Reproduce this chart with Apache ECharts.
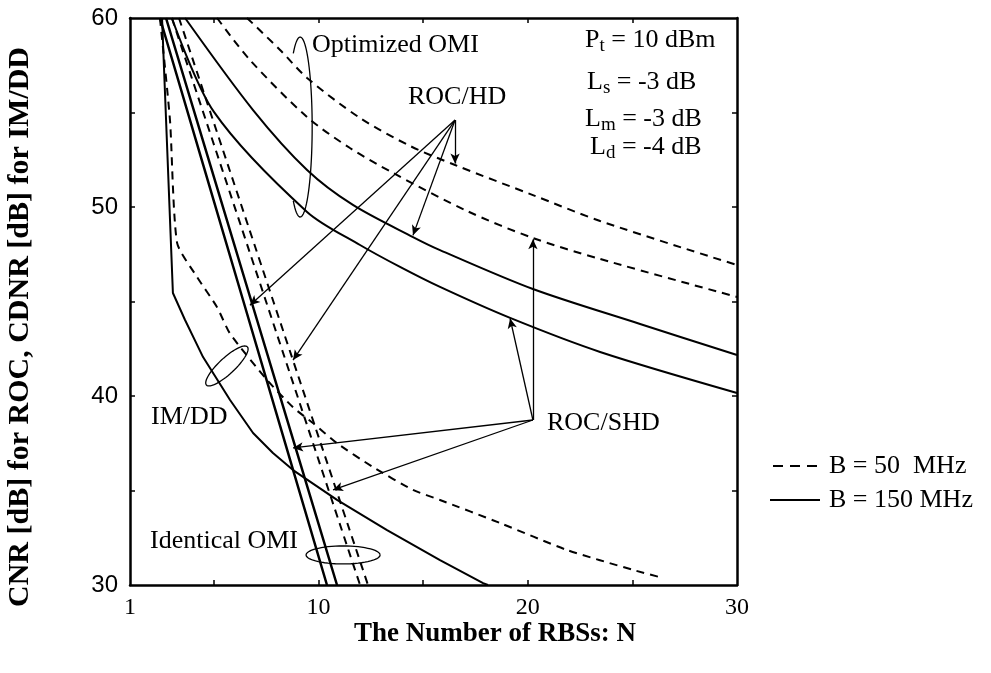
<!DOCTYPE html>
<html><head><meta charset="utf-8">
<script src="https://cdn.jsdelivr.net/npm/echarts@6/dist/echarts.min.js"></script>
<style>html,body{margin:0;padding:0;background:#fff}#c{width:991px;height:673px}</style>
</head><body><div id="c"></div>
<script>
// ---- axis ticks / labels ----
const xTickValues = [5, 10, 15, 20, 25];
const xLabelValues = [1, 10, 20, 30];
const yTickValues = [35, 40, 45, 50, 55];

// ---- series (N, dB) ----
// Optimized OMI, dashed (B = 50 MHz)
const optA50N = [6.59, 8.17, 9.46, 11.99, 14.38, 16.53, 20.25, 23.46, 30];
const optA50V = [60, 58.31, 56.83, 54.71, 53.23, 52.22, 50.63, 49.26, 46.93];
const optB50N = [5.16, 6.73, 9.46, 11.51, 13.57, 17.1, 20.25, 23.46, 30];
const optB50V = [60, 57.78, 54.76, 53.12, 51.8, 49.79, 48.36, 47.25, 45.24];
// Optimized OMI, solid (B = 150 MHz)
const optA150N = [3.63, 6.88, 9.46, 11.65, 14.52, 15.81, 20.25, 25.37, 30];
const optA150V = [60, 55.13, 51.96, 50.11, 48.41, 47.72, 45.66, 43.81, 42.17];
const optB150N = [3.0, 5.01, 9.46, 11.99, 13.9, 15.81, 19.16, 23.46, 30];
const optB150V = [60, 55.03, 49.74, 47.99, 46.83, 45.77, 44.13, 42.33, 40.16];
// Identical OMI, solid
const idA150N = [2.43, 6.4, 10.41];
const idA150V = [60, 45.08, 30];
const idB150N = [2.72, 6.78, 10.89];
const idB150V = [60, 45.08, 30];
// Identical OMI, dashed
const idA50N = [3.0, 7.5, 11.99];
const idA50V = [60, 45.0, 30];
const idB50N = [3.34, 7.85, 12.37];
const idB50V = [60, 45.0, 30];
// IM/DD
const imdd150N = [2.53, 3.05, 3.63, 4.49, 5.78, 6.88, 7.83, 8.79, 10.89, 13.28, 15.81, 17.87, 18.1];
const imdd150V = [60, 45.45, 44.02, 42.06, 39.79, 38.04, 36.98, 36.08, 34.5, 32.9, 31.32, 30.1, 30];
const imdd50N = [2.43, 2.91, 3.25, 4.2, 5.16, 5.78, 7.55, 8.79, 9.74, 10.89, 12.61, 14.52, 15.81, 18.68, 21.88, 25.03, 26.47];
const imdd50V = [60, 54.6, 48.1, 46.3, 44.7, 43.3, 40.85, 39.4, 38.57, 37.5, 36.24, 35.03, 34.5, 33.28, 31.85, 30.8, 30.37];

// ---- annotation arrows: [fromN, fromV, toN, toV] ----
const hdArrows = [
  [16.53, 54.6, 16.53, 52.3],
  [16.53, 54.6, 14.52, 48.5],
  [16.53, 54.6, 6.73, 44.8],
  [16.53, 54.6, 8.79, 41.9]
];
const shdArrows = [
  [20.25, 38.73, 20.25, 48.3],
  [20.25, 38.73, 19.16, 44.1],
  [20.25, 38.73, 8.79, 37.25],
  [20.25, 38.73, 10.7, 35.03]
];

const L50 = 'B = 50  MHz';
const L150 = 'B = 150 MHz';
const SERIF = '"Liberation Serif", "Times New Roman", serif';
const FS = 26;

function pairs(N, V) { return N.map((n, i) => [n, V[i]]); }
function line(name, N, V, dashed, width, smooth) {
  return {
    name: name, type: 'line', data: pairs(N, V), symbol: 'none', showSymbol: false,
    smooth: smooth, silent: true, animation: false,
    lineStyle: { color: '#000', width: width, type: dashed ? [8, 6] : 'solid' },
    itemStyle: { color: '#000' }
  };
}

const arrowData = hdArrows.concat(shdArrows).map(a => [{ coord: [a[0], a[1]] }, { coord: [a[2], a[3]] }]);

const series = [
  line(L50, optA50N, optA50V, true, 2, 0.3),
  line(L50, optB50N, optB50V, true, 2, 0.3),
  line(L150, optA150N, optA150V, false, 2, 0.3),
  line(L150, optB150N, optB150V, false, 2, 0.3),
  line(L150, idA150N, idA150V, false, 2.5, 0.2),
  line(L150, idB150N, idB150V, false, 2.5, 0.2),
  line(L50, idA50N, idA50V, true, 2, 0.2),
  line(L50, idB50N, idB50V, true, 2, 0.2),
  line(L150, imdd150N, imdd150V, false, 2, 0),
  line(L50, imdd50N, imdd50V, true, 2, 0.2)
];
series[2].markLine = {
  silent: true, animation: false, symbol: ['none', 'arrow'], symbolSize: [7, 10],
  label: { show: false },
  lineStyle: { color: '#000', width: 1.3, type: 'solid' },
  data: arrowData
};

const axisLineStyle = { lineStyle: { color: '#000', width: 2.5 } };
function xAx(pos, labels) {
  return {
    type: 'value', position: pos, min: 1, max: 30,
    axisLine: axisLineStyle, splitLine: { show: false },
    axisTick: { show: true, inside: true, length: 5, customValues: xTickValues, lineStyle: { color: '#000', width: 1.5 } },
    axisLabel: labels ? { show: true, customValues: xLabelValues, color: '#000', fontFamily: SERIF, fontSize: 24, margin: 11 } : { show: false }
  };
}
function yAx(pos, labels) {
  return {
    type: 'value', position: pos, min: 30, max: 60, interval: 10,
    axisLine: axisLineStyle, splitLine: { show: false },
    axisTick: { show: true, inside: true, length: 5, customValues: yTickValues, lineStyle: { color: '#000', width: 1.5 } },
    axisLabel: labels ? { show: true, color: '#000', fontFamily: '"Liberation Sans", Arial, sans-serif', fontSize: 24, margin: 12 } : { show: false }
  };
}

const txt = (t, x, y, extra) => Object.assign({
  type: 'text', x: x, y: y, silent: true,
  style: { text: t, font: FS + 'px ' + SERIF, fill: '#000', verticalAlign: 'middle' }
}, extra || {});

const subRich = {
  a: { fontFamily: SERIF, fontSize: FS, color: '#000' },
  s: { fontFamily: SERIF, fontSize: 19, color: '#000', verticalAlign: 'bottom', padding: [12, 0, 0, 0] }
};
function subText(main, sub, rest, x, y) {
  return {
    type: 'text', x: x, y: y, silent: true,
    style: { text: '{a|' + main + '}{s|' + sub + '}{a|' + rest + '}', rich: subRich, fill: '#000', verticalAlign: 'middle' }
  };
}

const dashIcon = 'path://M0,0h10v2h-10z M17,0h10v2h-10z M34,0h10v2h-10z';
const solidIcon = 'path://M0,0h52v2h-52z';

const chart = echarts.init(document.getElementById('c'), null, { renderer: 'canvas' });
const option = {
  animation: false,
  backgroundColor: '#fff',
  grid: { left: 130, right: 254, top: 18, bottom: 88, containLabel: false },
  xAxis: [xAx('bottom', true), xAx('top', false)],
  yAxis: [yAx('left', true), yAx('right', false)],
  legend: {
    data: [{ name: L50, icon: dashIcon }, { name: L150, icon: solidIcon }],
    orient: 'vertical', left: 765, top: 448, itemWidth: 50, itemHeight: 2, itemGap: 8,
    selectedMode: false,
    itemStyle: { color: '#000' },
    textStyle: { color: '#000', fontFamily: SERIF, fontSize: 26, lineHeight: 20, padding: [0, 0, 0, 4] }
  },
  series: series
};
chart.setOption(option);

function ellipsePts(cN, cV, rx, ry, rot, a0, a1) {
  const c = chart.convertToPixel({ gridIndex: 0 }, [cN, cV]);
  const pts = [];
  const steps = 60;
  for (let i = 0; i <= steps; i++) {
    const t = (a0 + (a1 - a0) * i / steps) * Math.PI / 180;
    const ex = rx * Math.cos(t), ey = ry * Math.sin(t);
    const r = rot * Math.PI / 180;
    pts.push([c[0] + ex * Math.cos(r) - ey * Math.sin(r), c[1] + ex * Math.sin(r) + ey * Math.cos(r)]);
  }
  return { type: 'polyline', silent: true, shape: { points: pts }, style: { stroke: '#000', lineWidth: 1.3, fill: null } };
}

chart.setOption({
  graphic: [
    txt('', 20, 327, { rotation: Math.PI / 2, style: { text: 'CNR [dB] for ROC, CDNR [dB] for IM/DD', font: 'bold 30px ' + SERIF, fill: '#000', align: 'center', verticalAlign: 'middle' } }),
    txt('', 495, 634, { style: { text: 'The Number of RBSs: N', font: 'bold 27px ' + SERIF, fill: '#000', align: 'center', verticalAlign: 'middle' } }),
    txt('Optimized OMI', 312, 45),
    txt('ROC/HD', 408, 97),
    txt('ROC/SHD', 547, 423),
    txt('IM/DD', 151, 417),
    txt('Identical OMI', 150, 541),
    subText('P', 't', ' = 10 dBm', 585, 40),
    subText('L', 's', ' = -3 dB', 587, 82),
    subText('L', 'm', ' = -3 dB', 585, 119),
    subText('L', 'd', ' = -4 dB', 590, 147),
    ellipsePts(9.13, 54.23, 12, 90, 0, -125, 125),
    ellipsePts(5.63, 41.59, 28, 8, -43, 0, 360),
    ellipsePts(11.18, 31.59, 37, 9, 0, 0, 360)
  ]
});
</script></body></html>
